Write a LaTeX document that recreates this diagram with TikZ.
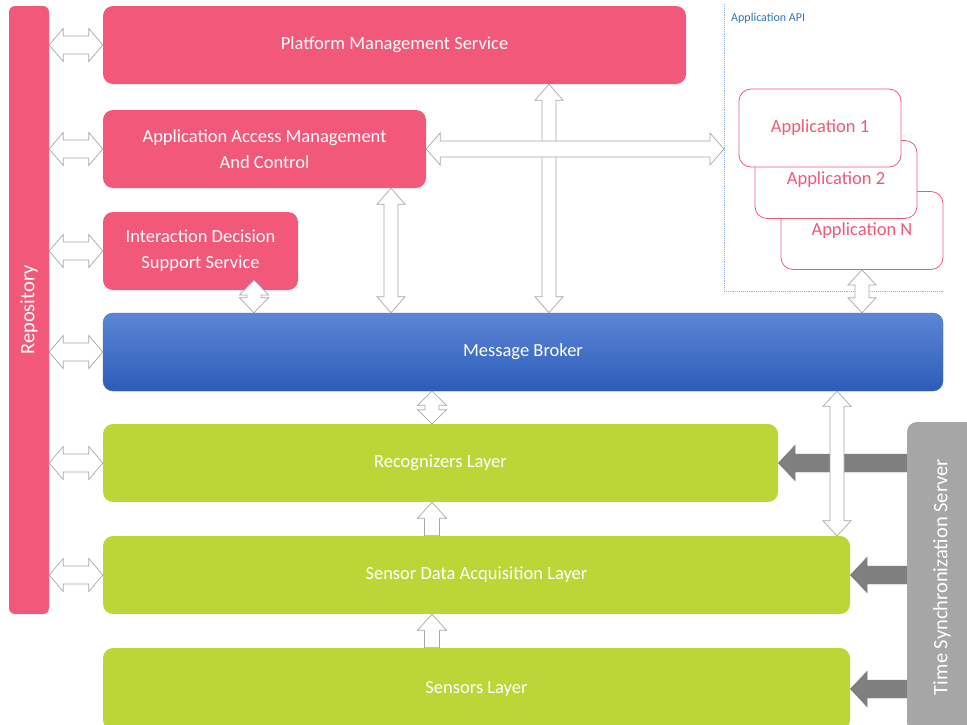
\documentclass[tikz,border=0pt]{standalone}
\usepackage{fontspec}
\setmainfont{Carlito}
\usetikzlibrary{calc}

\definecolor{pinkfill}{HTML}{F2587A}
\definecolor{greenfill}{HTML}{BCD537}
\definecolor{bluetop}{HTML}{5C86D6}
\definecolor{bluebot}{HTML}{2D5CB9}
\definecolor{greyfill}{HTML}{A6A6A6}
\definecolor{greyarrow}{HTML}{7F7F7F}
\definecolor{arrowedge}{HTML}{A8A8A8}
\definecolor{apiblue}{HTML}{2E75B6}
\definecolor{apiline}{HTML}{8FAADC}

\newcommand{\twohead}[5]{%
  \draw[whitearrow] let \p1=(#1), \p2=(#2),
    \n1={atan2(\y2-\y1,\x2-\x1)}, \n2={veclen(\x2-\x1,\y2-\y1)} in
    [shift={(\p1)}, rotate=\n1]
    (0,0) -- (#3,#4) -- (#3,#5) -- (\n2-#3,#5) -- (\n2-#3,#4) -- (\n2,0)
    -- (\n2-#3,-#4) -- (\n2-#3,-#5) -- (#3,-#5) -- (#3,-#4) -- cycle;}
\newcommand{\onehead}[6]{%
  \draw[#1] let \p1=(#2), \p2=(#3),
    \n1={atan2(\y2-\y1,\x2-\x1)}, \n2={veclen(\x2-\x1,\y2-\y1)} in
    [shift={(\p1)}, rotate=\n1]
    (0,-#6) -- (\n2-#4,-#6) -- (\n2-#4,-#5) -- (\n2,0)
    -- (\n2-#4,#5) -- (\n2-#4,#6) -- (0,#6) -- cycle;}

\begin{document}
\begin{tikzpicture}[x=1pt,y=-1pt,
	pinkbox/.style={rectangle,rounded corners=10pt,fill=pinkfill,text=white,inner sep=0pt,align=center,font=\fontsize{18.5}{26}\selectfont},
	greenbox/.style={rectangle,rounded corners=10pt,fill=greenfill,text=white,inner sep=0pt,font=\fontsize{18.5}{26}\selectfont},
	appbox/.style={rectangle,rounded corners=12pt,draw=pinkfill,line width=0.8pt,fill=white,text=pinkfill,inner sep=0pt,minimum width=162pt,minimum height=78pt,font=\fontsize{18.5}{22}\selectfont},
	sidebar/.style={rectangle,rotate=90,text=white,inner sep=0pt,font=\fontsize{20.5}{24}\selectfont},
	whitearrow/.style={draw=arrowedge,fill=white,line width=0.7pt,line join=miter},
	greyblock/.style={draw=greyarrow,fill=greyarrow,line width=0.2pt},
	apidots/.style={draw=apiline,densely dotted,line width=0.9pt}]
	\useasboundingbox (0,0) rectangle (967,724);

	\node[sidebar,fill=pinkfill,rounded corners=6pt,minimum width=608pt,minimum height=40pt] (repo) at (29,310) {Repository};
	\node[sidebar,fill=greyfill,rounded corners=10pt,minimum width=310pt,minimum height=70pt] (tss) at (942,577) {Time Synchronization Server};

	\node[pinkbox,minimum width=583pt,minimum height=78pt] (pms) at (394.5,45) {Platform Management Service};
	\node[pinkbox,minimum width=323pt,minimum height=78pt] (aac) at (264.5,149) {Application Access Management\\And Control};
	\node[pinkbox,minimum width=195pt,minimum height=78pt] (ids) at (200.5,251) {Interaction Decision\\Support Service};
	\node[rectangle,rounded corners=10pt,top color=bluetop,bottom color=bluebot,draw=bluetop!80!black,line width=0.4pt,text=white,inner sep=0pt,minimum width=840pt,minimum height=78pt,font=\fontsize{18.5}{26}\selectfont] (mb) at (523,352) {Message Broker};
	\node[greenbox,minimum width=675pt,minimum height=78pt] (rec) at (440.5,463) {Recognizers Layer};
	\node[greenbox,minimum width=747pt,minimum height=78pt] (sda) at (476.5,575) {Sensor Data Acquisition Layer};
	\node[greenbox,minimum width=747pt,minimum height=82pt] (sen) at (476.5,689) {Sensors Layer};

	\node[appbox] (appn) at (862,230.5) {Application N};
	\node[appbox] (app2) at (836,179.5) {Application 2};
	\node[appbox] (app1) at (820,128) {Application 1};

	\coordinate (api) at (724,4);
	\coordinate (apicorner) at (724,291);
	\coordinate (apiend) at (943,291);
	\draw[apidots] (api) -- (apicorner) -- (apiend);
	\node[anchor=base west,text=apiblue,inner sep=0pt,font=\fontsize{12}{14}\selectfont] (apilabel) at (731,21) {Application API};

	\coordinate (c1) at (549,0);
	\coordinate (c2) at (391,0);
	\coordinate (c3) at (254,280);
	\coordinate (c4) at (432,0);
	\coordinate (c5) at (837,0);

	\twohead{repo.south |- pms.west}{pms.west}{14}{16.5}{9}
	\twohead{repo.south |- aac.west}{aac.west}{14}{16.5}{9}
	\twohead{repo.south |- ids.west}{ids.west}{14}{16.5}{9}
	\twohead{repo.south |- mb.west}{mb.west}{14}{16.5}{9}
	\twohead{repo.south |- rec.west}{rec.west}{14}{16.5}{9}
	\twohead{repo.south |- sda.west}{sda.west}{14}{16.5}{9}

	\twohead{pms.south -| c1}{mb.north -| c1}{16}{14}{7}
	\twohead{aac.east}{api |- aac.east}{14}{16}{8}
	\twohead{aac.south -| c2}{mb.north -| c2}{16}{14}{7}
	\twohead{c3}{mb.north -| c3}{15}{14.5}{7}
	\twohead{appn.south}{appn.south |- mb.north}{15}{14}{7}
	\twohead{mb.south -| c4}{rec.north -| c4}{14}{14.5}{7}

	\onehead{greyblock}{tss.north |- rec.east}{rec.east}{17}{18}{9}
	\onehead{greyblock}{tss.north |- sda.east}{sda.east}{17}{18}{9}
	\onehead{greyblock}{tss.north |- sen.east}{sen.east}{17}{18}{9}

	\twohead{mb.south -| c5}{sda.north -| c5}{15}{14}{7}
	\onehead{whitearrow}{sda.north -| c4}{rec.south -| c4}{16}{14.5}{7.5}
	\onehead{whitearrow}{sen.north -| c4}{sda.south -| c4}{16}{14.5}{7.5}
\end{tikzpicture}
\end{document}
